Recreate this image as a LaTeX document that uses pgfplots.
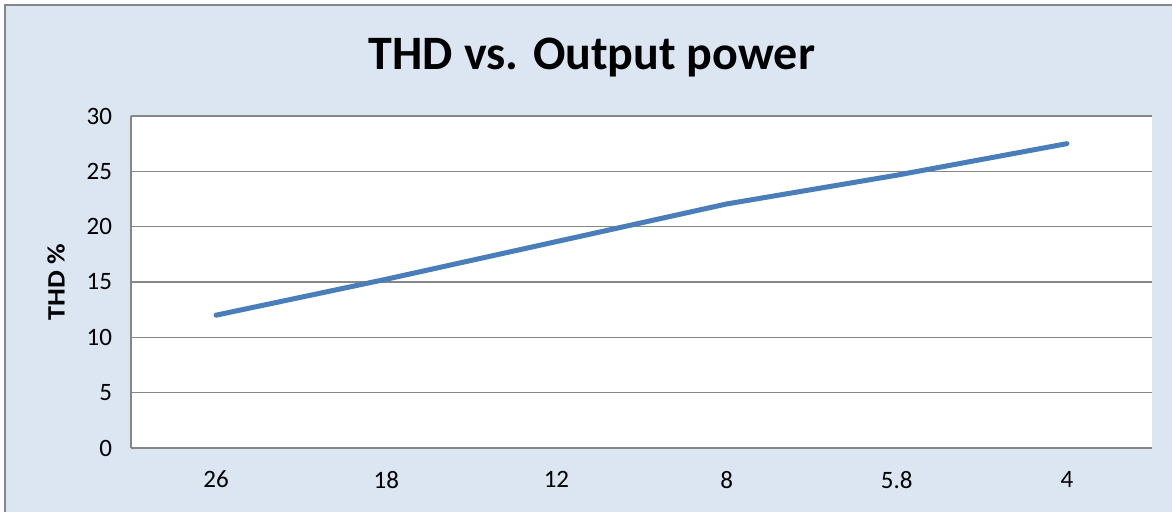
\documentclass[border=0pt]{standalone}
\usepackage{pgfplots}
\pgfplotsset{compat=1.18}
\usepackage{fontspec}
\setmainfont{Carlito}
\definecolor{bgblue}{HTML}{DCE6F2}
\definecolor{lineblue}{HTML}{4A7EBB}
\definecolor{gridgray}{HTML}{868686}
\begin{document}
\begin{tikzpicture}
\useasboundingbox (0,0) rectangle (586pt,256pt);
\fill[bgblue] (2.5pt,-10pt) rectangle (600pt,253.5pt);
\draw[color=gridgray, line width=0.75pt] (2.5pt,-10pt) -- (2.5pt,253.5pt) -- (600pt,253.5pt);
\node[font=\bfseries\fontsize{24}{28}\selectfont, anchor=base] at (296pt,221pt) {THD vs. Output power};
\begin{axis}[
  at={(65.5pt,32pt)}, anchor=south west,
  scale only axis, width=510.5pt, height=166pt,
  xmin=-0.5, xmax=5.5, ymin=0, ymax=30,
  xtick={0,1,2,3,4,5}, xticklabels={26,18,12,8,5.8,4},
  ytick={0,5,...,30},
  /pgf/number format/assume math mode=true,
  tick style={draw=none},
  ymajorgrids, grid style={color=gridgray, line width=0.75pt},
  axis line style={color=gridgray, line width=0.75pt},
  axis x line*=bottom, axis y line*=left,
  axis background/.style={fill=white},
  tick label style={font=\fontsize{12.5}{14}\selectfont},
  yticklabel style={xshift=-6pt},
  xticklabel style={yshift=-8pt},
  ylabel={\scalebox{1.13}[1]{THD \%}}, ylabel style={font=\bfseries\fontsize{12.5}{14}\selectfont, yshift=4pt},
  clip=false,
]
\addplot[color=lineblue, line width=2.5pt, line cap=round, line join=round] coordinates {
 (0,12) (1,15.25) (2,18.65) (3,22.05) (4,24.65) (5,27.5)
};
\end{axis}
\end{tikzpicture}
\end{document}
